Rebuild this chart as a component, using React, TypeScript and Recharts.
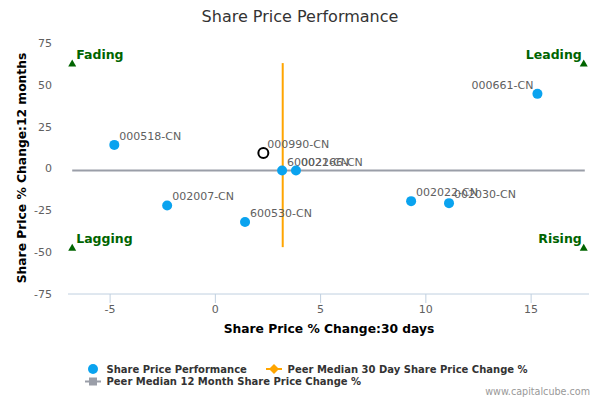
import React from 'react';
import { ScatterChart, Scatter, XAxis, YAxis } from 'recharts';

// ---------- data ----------
const peerNames = ['000661-CN', '000518-CN', '600022-CN', '002166-CN', '002007-CN', '600530-CN', '002022-CN', '002030-CN'];
const peer30Day = [15.3, -4.8, 3.17, 3.83, -2.29, 1.41, 9.3, 11.1];
const peer12Month = [44.6, 14.1, -1.2, -1.2, -22.1, -32.0, -19.5, -20.7];

const subjectName = '000990-CN';
const subject30Day = 2.28;
const subject12Month = 9.2;

const median30Day = 3.2;
const median12Month = -1.2;
const median30Span = [-47, 63];
const median12Span = [-6.8, 17.55];

const quadLabels = ['Fading', 'Leading', 'Lagging', 'Rising'];
const quadX = [-6.8, 17.5, -6.8, 17.5];
const quadY = [63, 63, -47, -47];

const xTicks = [-5, 0, 5, 10, 15];
const yTicks = [-75, -50, -25, 0, 25, 50, 75];
const xDomain = [-7, 17.75];
const yDomain = [-75, 75];

const legendItems = ['Share Price Performance', 'Peer Median 30 Day Share Price Change %', 'Peer Median 12 Month Share Price Change %'];

// ---------- derived ----------
const peerData = peerNames.map((name, i) => ({ name, x: peer30Day[i], y: peer12Month[i] }));
const subjectData = [{ name: subjectName, x: subject30Day, y: subject12Month }];
const median30Data = median30Span.map((y) => ({ x: median30Day, y }));
const median12Data = median12Span.map((x) => ({ x, y: median12Month }));
const quadData = quadLabels.map((name, i) => ({ name, x: quadX[i], y: quadY[i] }));

// ---------- style ----------
const FONT = 'DejaVu Sans, Verdana, sans-serif';
const BLUE = '#0AA3EF';
const ORANGE = '#FFA500';
const GRAY = '#9A9EA8';
const GREEN = '#006400';
const LABEL = '#606060';
const PLOT_RIGHT = 589;
const PLOT_MID = 329;

const PeerShape = (props: any) => {
  const { cx, cy, payload } = props;
  const w = String(payload.name).length * 6.7;
  const left = cx + 5 + w > PLOT_RIGHT;
  return (
    <g>
      <circle cx={cx} cy={cy} r={5} fill={BLUE} />
      <text
        x={left ? cx - 4 : cx + 5}
        y={cy - 5}
        textAnchor={left ? 'end' : 'start'}
        fontSize={11}
        fontFamily={FONT}
        fill={LABEL}
      >
        {payload.name}
      </text>
    </g>
  );
};

const SubjectShape = (props: any) => {
  const { cx, cy, payload } = props;
  return (
    <g>
      <circle cx={cx} cy={cy} r={5} fill="#fff" stroke="#000" strokeWidth={2} />
      <text x={cx + 4} y={cy - 5} fontSize={11} fontFamily={FONT} fill={LABEL}>
        {payload.name}
      </text>
    </g>
  );
};

const QuadShape = (props: any) => {
  const { cx, cy, payload } = props;
  const right = cx > PLOT_MID;
  return (
    <g>
      <path d={`M${cx - 4},${cy + 3.5} L${cx + 4},${cy + 3.5} L${cx},${cy - 3.5} Z`} fill={GREEN} />
      <text
        x={right ? cx - 2 : cx + 4}
        y={cy - 4}
        textAnchor={right ? 'end' : 'start'}
        fontSize={12.5}
        fontWeight="bold"
        fontFamily={FONT}
        fill={GREEN}
      >
        {payload.name}
      </text>
    </g>
  );
};

const NoShape = () => <g />;

export default function App() {
  return (
    <div style={{ position: 'absolute', left: 0, top: 0, width: 600, height: 400, background: '#fff', fontFamily: FONT }}>
      <ScatterChart width={600} height={400} margin={{ top: 43, right: 11, bottom: 76, left: 0 }}>
        <XAxis
          type="number"
          dataKey="x"
          domain={xDomain}
          ticks={xTicks}
          allowDataOverflow
          height={30}
          axisLine={{ stroke: '#C0D0E0' }}
          tickLine={{ stroke: '#C0D0E0' }}
          tickSize={9}
          tick={{ fontSize: 11, fill: LABEL, fontFamily: FONT }}
        />
        <YAxis
          type="number"
          dataKey="y"
          domain={yDomain}
          ticks={yTicks}
          allowDataOverflow
          width={68}
          axisLine={false}
          tickLine={false}
          tickSize={0}
          tickMargin={16}
          tick={{ fontSize: 11, fill: LABEL, fontFamily: FONT }}
        />
        <Scatter data={median12Data} line={{ stroke: GRAY, strokeWidth: 2 }} shape={NoShape} isAnimationActive={false} legendType="none" />
        <Scatter data={median30Data} line={{ stroke: ORANGE, strokeWidth: 2 }} shape={NoShape} isAnimationActive={false} legendType="none" />
        <Scatter data={quadData} shape={QuadShape} isAnimationActive={false} legendType="none" />
        <Scatter data={subjectData} shape={SubjectShape} isAnimationActive={false} legendType="none" />
        <Scatter data={peerData} shape={PeerShape} isAnimationActive={false} legendType="none" />
      </ScatterChart>
      <svg width={600} height={400} style={{ position: 'absolute', left: 0, top: 0, pointerEvents: 'none' }}>
        <text x={300} y={21.7} textAnchor="middle" fontSize={16} fill="#333" fontFamily={FONT}>
          Share Price Performance
        </text>
        <text x={329} y={332.5} textAnchor="middle" fontSize={12.3} fontWeight="bold" fill="#000" fontFamily={FONT}>
          Share Price % Change:30 days
        </text>
        <text
          x={26}
          y={168}
          textAnchor="middle"
          fontSize={12.3}
          fontWeight="bold"
          fill="#000"
          fontFamily={FONT}
          transform="rotate(-90 26 168)"
        >
          Share Price % Change:12 months
        </text>
        {/* legend */}
        <circle cx={93} cy={369} r={5} fill={BLUE} />
        <text x={106.5} y={372.6} fontSize={10} fontWeight="bold" fill="#333" fontFamily={FONT}>
          {legendItems[0]}
        </text>
        <line x1={266} y1={369} x2={282} y2={369} stroke={ORANGE} strokeWidth={2} />
        <path d="M274,364 L279,369 L274,374 L269,369 Z" fill={ORANGE} />
        <text x={287.6} y={372.6} fontSize={10} fontWeight="bold" fill="#333" fontFamily={FONT}>
          {legendItems[1]}
        </text>
        <line x1={85} y1={381.5} x2={101} y2={381.5} stroke={GRAY} strokeWidth={2} />
        <rect x={89} y={377.5} width={8} height={8} fill={GRAY} />
        <text x={106.5} y={385} fontSize={10} fontWeight="bold" fill="#333" fontFamily={FONT}>
          {legendItems[2]}
        </text>
        <text x={590} y={395} textAnchor="end" fontSize={9.6} fill="#999" fontFamily={FONT}>
          www.capitalcube.com
        </text>
      </svg>
    </div>
  );
}
